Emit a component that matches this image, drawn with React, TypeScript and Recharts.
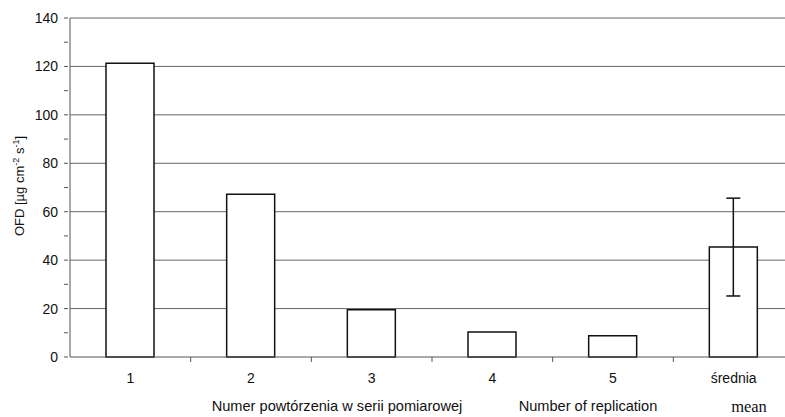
import React from "react";
import { BarChart, Bar, XAxis, YAxis, CartesianGrid, ErrorBar } from "recharts";

const categories = ["1", "2", "3", "4", "5", "średnia"];
const values = [121.3, 67.2, 19.5, 10.3, 8.8, 45.4];
const errors: (number | null)[] = [null, null, null, null, null, 20.2];
const yTicks = [0, 10, 20, 30, 40, 50, 60, 70, 80, 90, 100, 110, 120, 130, 140];
const gridValues = [20, 40, 60, 80, 100, 120, 140];
const xTitlePl = "Numer powtórzenia w serii pomiarowej";
const xTitleEn = "Number of replication";
const xTitleMean = "mean";

const data = categories.map((c, i) => ({ name: c, value: values[i], err: errors[i] }));

const FONT = "'Liberation Sans', Arial, sans-serif";
const BAND = 724 / 6;

const XTick = (props: any) => {
  const { x, y, payload } = props;
  return (
    <g>
      <line x1={x + BAND / 2} x2={x + BAND / 2} y1={y - 8} y2={y - 3} stroke="#555" strokeWidth={1} />
      <text x={x} y={y + 18} textAnchor="middle" fontFamily={FONT} fontSize={14} fill="#111">
        {payload.value}
      </text>
    </g>
  );
};

const YTick = (props: any) => {
  const { x, y, payload } = props;
  const major = payload.value % 20 === 0;
  return (
    <g>
      <line x1={x + 2} x2={x + 6} y1={y} y2={y} stroke="#555" strokeWidth={1} />
      {major && (
        <text x={x - 4} y={y + 5} textAnchor="end" fontFamily={FONT} fontSize={14} fill="#111">
          {payload.value}
        </text>
      )}
    </g>
  );
};

const YLabel = () => (
  <text
    transform="translate(24,186) rotate(-90)"
    textAnchor="middle"
    fontFamily={FONT}
    fontSize={13}
    fill="#111"
  >
    OFD [µg cm
    <tspan dy={-5} fontSize={9}>-2</tspan>
    <tspan dy={5}> s</tspan>
    <tspan dy={-5} fontSize={9}>-1</tspan>
    <tspan dy={5}>]</tspan>
  </text>
);

const XLabel = () => (
  <g>
    <text x={337} y={411} textAnchor="middle" fontFamily={FONT} fontSize={14.6} fill="#111">
      {xTitlePl}
    </text>
    <text x={588} y={411} textAnchor="middle" fontFamily={FONT} fontSize={14.6} fill="#111">
      {xTitleEn}
    </text>
    <text x={749} y={412} textAnchor="middle" fontFamily="'Liberation Serif', 'DejaVu Serif', serif" fontSize={16.5} fill="#111">
      {xTitleMean}
    </text>
  </g>
);

export default function App() {
  return (
    <div style={{ position: "absolute", left: 0, top: 0, width: 785, height: 417, overflow: "hidden", background: "#fff" }}>
      <BarChart
        width={800}
        height={417}
        data={data}
        margin={{ top: 18, right: 6, bottom: 30, left: 30 }}
        barCategoryGap={0}
      >
        <CartesianGrid
          horizontal={true}
          vertical={false}
          horizontalValues={gridValues}
          stroke="#666"
          strokeWidth={1}
        />
        <XAxis
          dataKey="name"
          axisLine={{ stroke: "#555", strokeWidth: 1 }}
          tickLine={false}
          tick={<XTick />}
          height={30}
          interval={0}
          label={<XLabel />}
        />
        <YAxis
          domain={[0, 140]}
          ticks={yTicks}
          interval={0}
          width={40}
          axisLine={{ stroke: "#555", strokeWidth: 1 }}
          tickLine={false}
          tick={<YTick />}
          label={<YLabel />}
        />
        <Bar dataKey="value" fill="#fff" stroke="#111" strokeWidth={1.5} barSize={48} isAnimationActive={false}>
          <ErrorBar dataKey="err" width={7} stroke="#111" strokeWidth={1.5} direction="y" />
        </Bar>
      </BarChart>
    </div>
  );
}
